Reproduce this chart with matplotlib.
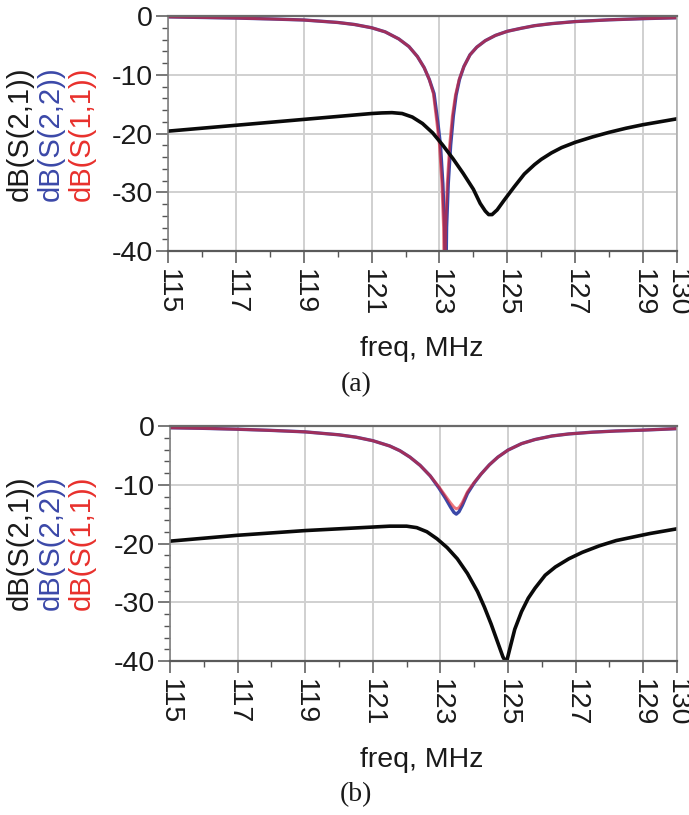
import matplotlib
matplotlib.use("Agg")
import matplotlib.pyplot as plt
from matplotlib.ticker import FixedLocator, MultipleLocator

# ---------------- panel (a) ----------------
a_s11_freq = [115, 116, 117, 118, 119, 120, 120.5, 121, 121.4, 121.8, 122.1, 122.35, 122.55,
              122.7, 122.82, 122.92, 123.0, 123.07, 123.12, 123.15, 123.18, 123.23, 123.3,
              123.38, 123.47, 123.58, 123.72, 123.9, 124.1, 124.35, 124.65, 125.0, 125.4,
              125.8, 126.3, 127, 128, 129, 130]
a_s11_db = [-0.15, -0.25, -0.35, -0.5, -0.68, -1.1, -1.45, -2.0, -2.7, -3.9, -5.2, -6.9, -8.8,
            -10.8, -13.2, -18.0, -22.0, -28.5, -36, -50, -36, -28.5, -22.0, -17.0, -13.5,
            -10.8, -8.6, -6.6, -5.3, -4.2, -3.3, -2.6, -2.1, -1.65, -1.3, -0.95, -0.65,
            -0.45, -0.3]

a_s22_freq = [115, 116, 117, 118, 119, 120, 120.5, 121, 121.4, 121.8, 122.1, 122.35, 122.55,
              122.7, 122.84, 122.95, 123.03, 123.1, 123.15, 123.18, 123.21, 123.26, 123.33,
              123.41, 123.49, 123.59, 123.72, 123.9, 124.1, 124.35, 124.65, 125.0, 125.4,
              125.8, 126.3, 127, 128, 129, 130]
a_s22_db = a_s11_db

a_s21_freq = [115, 116, 117, 118, 119, 120, 120.5, 121, 121.3, 121.6, 121.9, 122.2, 122.5,
              122.8, 123.1, 123.4, 123.7, 124.0, 124.2, 124.35, 124.45, 124.55, 124.7,
              124.9, 125.2, 125.5, 125.8, 126.0, 126.3, 126.6, 127, 127.5, 128, 128.5, 129,
              129.5, 130]
a_s21_db = [-19.6, -19.1, -18.6, -18.1, -17.6, -17.1, -16.85, -16.6, -16.5, -16.45, -16.6,
            -17.2, -18.3, -19.9, -22.0, -24.3, -26.8, -29.5, -31.9, -33.2, -33.8, -33.8,
            -33.0, -31.4, -29.1, -26.9, -25.3, -24.4, -23.3, -22.4, -21.5, -20.6, -19.8,
            -19.1, -18.5, -18.0, -17.5]

# ---------------- panel (b) ----------------
b_s11_freq = [115, 116, 117, 118, 119, 120, 120.5, 121, 121.5, 121.8, 122.1, 122.4, 122.7,
              122.95, 123.15, 123.3, 123.4, 123.47, 123.55, 123.65, 123.8, 124.0, 124.2,
              124.45, 124.7, 125.0, 125.4, 125.8, 126.3, 126.8, 127.5, 128.2, 129, 130]
b_s11_db = [-0.3, -0.4, -0.55, -0.75, -1.0, -1.5, -1.9, -2.5, -3.4, -4.2, -5.3, -6.7, -8.5,
            -10.3, -11.9, -13.1, -13.8, -14.1, -13.9, -13.0, -11.2, -9.6, -8.2, -6.6, -5.3,
            -4.1, -3.0, -2.3, -1.7, -1.35, -1.05, -0.85, -0.7, -0.45]

b_s22_freq = b_s11_freq
b_s22_db = [-0.3, -0.4, -0.55, -0.75, -1.0, -1.5, -1.9, -2.5, -3.4, -4.2, -5.3, -6.7, -8.5,
            -10.5, -12.3, -13.8, -14.7, -15.0, -14.6, -13.5, -11.5, -9.7, -8.2, -6.6, -5.3,
            -4.1, -3.0, -2.3, -1.7, -1.35, -1.05, -0.85, -0.7, -0.45]

b_s21_freq = [115, 116, 117, 118, 119, 120, 121, 121.5, 122, 122.3, 122.6, 122.9, 123.2,
              123.5, 123.8, 124.1, 124.3, 124.5, 124.7, 124.85, 124.95, 125.05, 125.2,
              125.4, 125.6, 125.8, 126.1, 126.4, 126.8, 127.2, 127.7, 128.2, 128.7, 129.2,
              129.6, 130]
b_s21_db = [-19.6, -19.1, -18.6, -18.2, -17.8, -17.5, -17.2, -17.05, -17.05, -17.3, -18.0,
            -19.2, -20.7, -22.6, -25.1, -28.2, -30.8, -33.7, -36.9, -39.3, -40.3, -38.0,
            -34.6, -31.6, -29.3, -27.6, -25.4, -24.0, -22.6, -21.5, -20.4, -19.5, -18.9,
            -18.3, -17.9, -17.5]

x_major = [115, 117, 119, 121, 123, 125, 127, 129, 130]
x_minor = [116, 118, 120, 122, 124, 126, 128]
y_major = [0, -10, -20, -30, -40]

label_names = ["dB(S(2,1))", "dB(S(2,2))", "dB(S(1,1))"]
label_colors = ["#1a1a1a", "#3b48a8", "#e8302c"]

SANS = "Liberation Sans"
SERIF = "Liberation Serif"

W, H = 689, 815
fig = plt.figure(figsize=(W / 100, H / 100), dpi=100)


def frame(px_left, px_top, px_right, px_bottom):
    return [px_left / W, 1 - px_bottom / H, (px_right - px_left) / W, (px_bottom - px_top) / H]


def draw_panel(rect, s21, s22, s11, ylabel_center_px, xlabel_y_px, tag, tag_y_px):
    ax = fig.add_axes(rect)
    ax.set_xlim(115, 130)
    ax.set_ylim(-40, 0)

    ax.xaxis.set_major_locator(FixedLocator(x_major))
    ax.xaxis.set_minor_locator(FixedLocator(x_minor))
    ax.yaxis.set_major_locator(FixedLocator(y_major))
    ax.yaxis.set_minor_locator(MultipleLocator(2))
    ax.set_xticklabels([str(v) for v in x_major], rotation=-90, family=SANS, fontsize=20.5)
    ax.set_yticklabels([str(v) for v in y_major], family=SANS, fontsize=20.5)

    ax.grid(True, which="major", color="#d0d0d0", linewidth=1.4)
    ax.set_axisbelow(True)
    ax.tick_params(which="major", direction="out", length=8.3, width=1.1, color="#555555",
                   pad=2.5, labelcolor="#1a1a1a")
    ax.tick_params(axis="x", which="major", pad=5)
    ax.tick_params(which="minor", direction="out", length=4.3, width=1.0, color="#555555")

    for side, col, lw in (("top", "#6a6a6a", 1.6), ("bottom", "#5a5a5a", 1.6),
                          ("left", "#808080", 1.2), ("right", "#a8a8a8", 1.1)):
        ax.spines[side].set_color(col)
        ax.spines[side].set_linewidth(lw)

    ax.plot(*s22, color="#3b48a8", linewidth=2.4, clip_on=True)
    ax.plot(*s11, color="#e0202c", linewidth=2.1, alpha=0.62, clip_on=True)
    ax.plot(*s21, color="#0a0a0a", linewidth=2.6, clip_on=True)

    # stacked, colour-coded y-axis label
    for i, (txt, col) in enumerate(zip(label_names, label_colors)):
        fig.text((20 + 31 * i) / W, 1 - ylabel_center_px / H, txt, rotation=90,
                 color=col, family=SANS, fontsize=21, ha="center", va="center")

    fig.text(422 / W, 1 - xlabel_y_px / H, "freq, MHz", family=SANS, fontsize=20.5,
             color="#1a1a1a", ha="center", va="center")
    fig.text(356 / W, 1 - tag_y_px / H, tag, family=SERIF, fontsize=20,
             color="#1a1a1a", ha="center", va="center")
    return ax


draw_panel(frame(168, 16, 677, 251),
           (a_s21_freq, a_s21_db), (a_s22_freq, a_s22_db), (a_s11_freq, a_s11_db),
           134, 349, "(a)", 385)
draw_panel(frame(170, 426, 677, 661),
           (b_s21_freq, b_s21_db), (b_s22_freq, b_s22_db), (b_s11_freq, b_s11_db),
           543, 760, "(b)", 795)

fig.savefig("out.png", dpi=100)
